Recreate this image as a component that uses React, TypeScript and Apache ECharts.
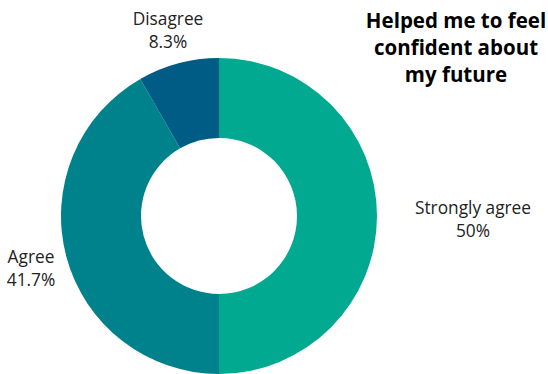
import React, { useEffect, useRef } from "react";
import * as echarts from "echarts";

const categories = ["Strongly agree", "Agree", "Disagree"];
const values = [50, 41.7, 8.3];
const colors = ["#00A990", "#00828C", "#005B85"];
const titleText = "Helped me to feel\nconfident about\nmy future";

const labelPos: [number, number][] = [
  [473, 219],
  [31, 268],
  [168, 30],
];

export default function App() {
  const ref = useRef<HTMLDivElement>(null);
  useEffect(() => {
    const chart = echarts.init(ref.current!, null, { renderer: "svg" });
    chart.setOption({
      animation: false,
      textStyle: { fontFamily: "Open Sans" },
      graphic: [
        {
          type: "text",
          x: 456,
          y: 6,
          style: {
            text: titleText,
            fontFamily: "Open Sans",
            fontWeight: "bold",
            fontSize: 20.5,
            lineHeight: 27,
            align: "center",
            verticalAlign: "top",
            fill: "#000",
          },
        },
      ],
      series: [
        {
          type: "pie",
          center: [219, 216],
          radius: [78, 158],
          startAngle: 90,
          clockwise: true,
          label: {
            show: true,
            position: "inside",
            formatter: (p: any) => `${p.name}\n${p.value}%`,
            fontFamily: "Open Sans",
            fontSize: 17.3,
            lineHeight: 23.5,
            color: "#222",
            align: "center",
          },
          labelLine: { show: false },
          labelLayout: (params: any) => {
            const [x, y] = labelPos[params.dataIndex];
            return { x, y, align: "center", verticalAlign: "middle" };
          },
          data: categories.map((c, i) => ({
            name: c,
            value: values[i],
            itemStyle: { color: colors[i] },
          })),
        },
      ],
    });
    return () => chart.dispose();
  }, []);
  return (
    <div
      ref={ref}
      style={{ position: "fixed", left: 0, top: 0, width: 548, height: 374, background: "#fff" }}
    />
  );
}
